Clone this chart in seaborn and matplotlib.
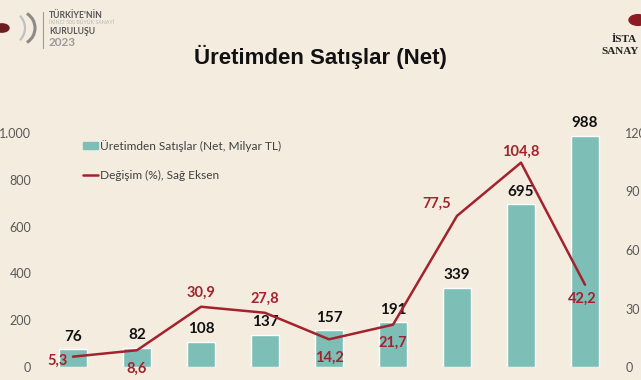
import numpy as np
import pandas as pd
import matplotlib
matplotlib.use("Agg")
import matplotlib.pyplot as plt
import matplotlib.patches as mpatches
from matplotlib.lines import Line2D
from matplotlib.ticker import FuncFormatter
import seaborn as sns

# ---- data ----
years = ["2015", "2016", "2017", "2018", "2019", "2020", "2021", "2022", "2023"]
sales = [76, 82, 108, 137, 157, 191, 339, 695, 988]
change = [5.3, 8.6, 30.9, 27.8, 14.2, 21.7, 77.5, 104.8, 42.2]
left_ticks = [0, 200, 400, 600, 800, 1000]
right_ticks = [0, 30, 60, 90, 120]
title = "Üretimden Satışlar (Net)"
bar_label = "Üretimden Satışlar (Net, Milyar TL)"
line_label = "Değişim (%), Sağ Eksen"

BG = "#F4ECDF"
TEAL = "#7DBFB7"
RED = "#A3222D"
GRAY = "#595959"

sns.set_theme(style="white")
plt.rcParams["font.family"] = ["Lato", "DejaVu Sans"]

W, H = 641, 380
fig = plt.figure(figsize=(W / 100, H / 100), dpi=100, facecolor=BG)
ax = fig.add_axes([41 / W, (H - 367) / H, (617 - 41) / W, (367 - 133) / H])
ax.set_facecolor(BG)

df = pd.DataFrame({"year": years, "sales": sales, "change": change})
sns.barplot(data=df, x="year", y="sales", color=TEAL, width=0.44,
            saturation=1, ax=ax, zorder=2)
ax.set_xlim(-0.5, len(years) - 0.5)
ax.set_ylim(0, 1000)
ax.set_yticks(left_ticks)
ax.yaxis.set_major_formatter(FuncFormatter(lambda v, p: f"{int(v):,}".replace(",", ".")))
ax.tick_params(axis="y", labelsize=9, labelcolor=GRAY, pad=7, length=0)
ax.set_xticks([])
ax.set_xlabel("")
ax.set_ylabel("")
for s in ax.spines.values():
    s.set_visible(False)

for i, v in enumerate(sales):
    ax.annotate(str(v), (i, v), xytext=(0, 4), textcoords="offset points",
                ha="center", va="bottom", fontsize=11, fontweight="bold",
                color="#111111", annotation_clip=False)

ax2 = ax.twinx()
ax2.set_position(ax.get_position())
xpos = np.arange(len(years))
sns.lineplot(x=xpos, y=change, color=RED, linewidth=1.8, ax=ax2, zorder=3)
ax2.set_ylim(0, 120)
ax2.set_yticks(right_ticks)
ax2.tick_params(axis="y", labelsize=9, labelcolor=GRAY, pad=6, length=0)
ax2.set_ylabel("")
for s in ax2.spines.values():
    s.set_visible(False)

# label placement (style only): offsets in points, alignment
offsets = [(-4, -3, "right", "center"), (0, -8, "center", "top"),
           (0, 5, "center", "bottom"), (0, 5, "center", "bottom"),
           (0, -8, "center", "top"), (0, -8, "center", "top"),
           (-4, 4, "right", "bottom"), (0, 3, "center", "bottom"),
           (-2, -5, "center", "top")]
for i, v in enumerate(change):
    dx, dy, ha, va = offsets[i]
    ax2.annotate(f"{v:.1f}".replace(".", ","), (i, v), xytext=(dx, dy),
                 textcoords="offset points", ha=ha, va=va,
                 fontsize=10.5, fontweight="bold", color=RED,
                 annotation_clip=False)

handles = [mpatches.Patch(color=TEAL), Line2D([0], [0], color=RED, lw=1.8)]
leg = fig.legend(handles, [bar_label, line_label], loc="upper left",
                 bbox_to_anchor=(72 / W, 1 - 129 / H), frameon=False,
                 fontsize=8.6, handlelength=1.3, handleheight=0.6,
                 handletextpad=0.15, labelspacing=1.55)
for t in leg.get_texts():
    t.set_color("#404040")

fig.text(320 / W, 1 - 57 / H, title, ha="center", va="center",
         fontsize=16, fontweight="bold", color="#111111",
         family=["Liberation Sans", "DejaVu Sans"])

# ---- header logos ----
fig.add_artist(Line2D([43 / W, 43 / W], [1 - 12 / H, 1 - 48 / H], color="#9a9a9a", lw=0.8))
fig.text(49 / W, 1 - 15 / H, "TÜRKİYE'NİN", fontsize=6.2, fontweight="bold", color="#555555", va="center")
fig.text(49 / W, 1 - 23 / H, "İKİNCİ 500 BÜYÜK SANAYİ", fontsize=3.8, color="#b5b5b5", va="center")
fig.text(49 / W, 1 - 32 / H, "KURULUŞU", fontsize=6.2, fontweight="bold", color="#555555", va="center")
fig.text(49 / W, 1 - 43 / H, "2023", fontsize=8.5, fontweight="bold", color="#9a9a9a", va="center")
fig.add_artist(mpatches.Arc((18 / W, 1 - 28 / H), 34 / W, 34 / H, theta1=-70, theta2=70,
                            color="#8a8a8a", lw=2.2, transform=fig.transFigure))
fig.add_artist(mpatches.Arc((8 / W, 1 - 28 / H), 34 / W, 34 / H, theta1=-60, theta2=60,
                            color="#c0c0c0", lw=1.6, transform=fig.transFigure))
fig.add_artist(mpatches.Circle((2 / W, 1 - 28 / H), 7 / W, color="#6b1d22", transform=fig.transFigure))

fig.add_artist(mpatches.Circle((638 / W, 1 - 20 / H), 9 / W, color="#8e1b22", transform=fig.transFigure))
fig.text(612 / W, 1 - 40 / H, "İSTA", fontsize=8, fontweight="bold", color="#222222",
         va="center", family=["Liberation Serif", "DejaVu Serif"])
fig.text(601 / W, 1 - 52 / H, "SANAY", fontsize=8, fontweight="bold", color="#222222",
         va="center", family=["Liberation Serif", "DejaVu Serif"])

fig.savefig("out.png", dpi=100, facecolor=BG)
